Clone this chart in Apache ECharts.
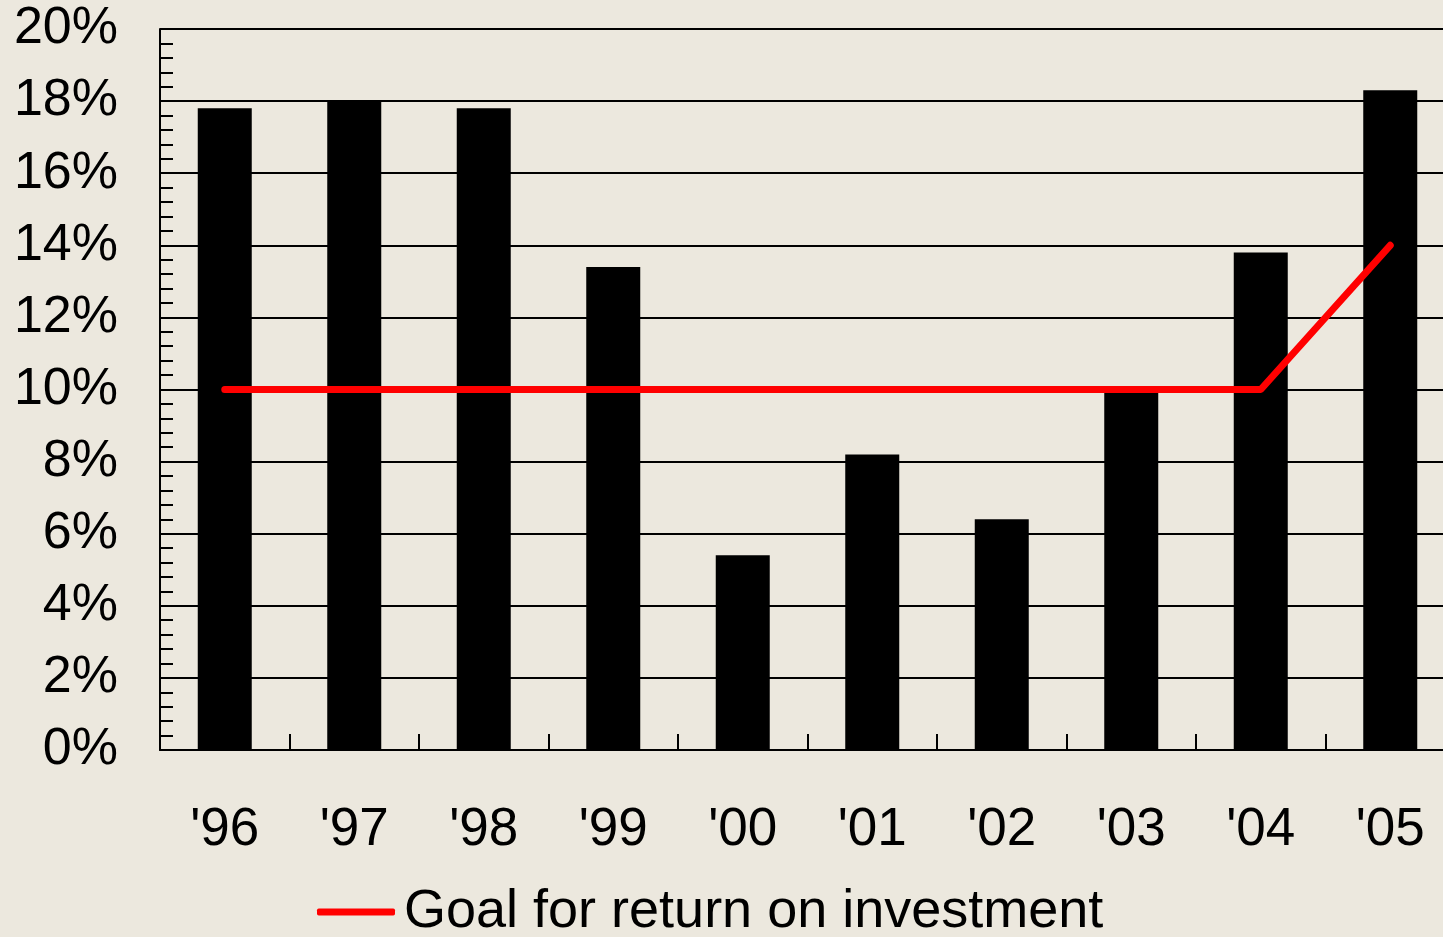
<!DOCTYPE html>
<html>
<head>
<meta charset="utf-8">
<script src="https://cdn.jsdelivr.net/npm/echarts@6/dist/echarts.min.js"></script>
<style>
html,body{margin:0;padding:0;background:#ece8de;}
#c{width:1443px;height:937px;}
</style>
</head>
<body>
<div id="c"></div>
<script>
var categories = ["'96","'97","'98","'99","'00","'01","'02","'03","'04","'05"];
var returnValues = [17.8, 18.0, 17.8, 13.4, 5.4, 8.2, 6.4, 9.9, 13.8, 18.3];
var goalValues = [10, 10, 10, 10, 10, 10, 10, 10, 10, 14];
var goalName = 'Goal for return on investment';

var chart = echarts.init(document.getElementById('c'), null, {renderer:'canvas'});
var font = '"Liberation Sans", Arial, sans-serif';
chart.setOption({
  backgroundColor: '#ece8de',
  animation: false,
  grid: {left:160, top:29, width:1295, height:721, containLabel:false, outerBoundsMode:'none'},
  legend: {
    left: 312, top: 880,
    itemWidth: 78, itemHeight: 7,
    data: [{name: goalName, icon: 'roundRect'}],
    textStyle: {fontSize: 54, color: '#000', fontFamily: font, padding:[0,0,0,4]}
  },
  xAxis: {
    type: 'category',
    data: categories,
    boundaryGap: true,
    axisLine: {lineStyle:{color:'#000', width:2}},
    axisTick: {show:true, inside:true, length:16, interval:0, lineStyle:{color:'#000', width:2}},
    axisLabel: {fontSize:53, color:'#000', fontFamily:font, margin:54, interval:0},
    splitLine: {show:false}
  },
  yAxis: {
    type: 'value',
    min: 0, max: 20, interval: 2,
    axisLine: {show:true, lineStyle:{color:'#000', width:2}},
    axisTick: {show:true, inside:true, length:13, lineStyle:{color:'#000', width:2}},
    minorTick: {show:true, splitNumber:5, length:13, lineStyle:{color:'#000', width:2}},
    axisLabel: {fontSize:52, color:'#000', fontFamily:font, margin:42, formatter:'{value}%'},
    splitLine: {show:true, lineStyle:{color:'#000', width:2}}
  },
  series: [
    {
      type: 'bar',
      name: 'Return on investment',
      data: returnValues,
      barWidth: 54,
      itemStyle: {color:'#000'}
    },
    {
      type: 'line',
      name: goalName,
      data: goalValues,
      symbol: 'none',
      color: '#ff0000',
      lineStyle: {color:'#ff0000', width:7, cap:'round', join:'round'},
      z: 5
    }
  ]
});
</script>
</body>
</html>
